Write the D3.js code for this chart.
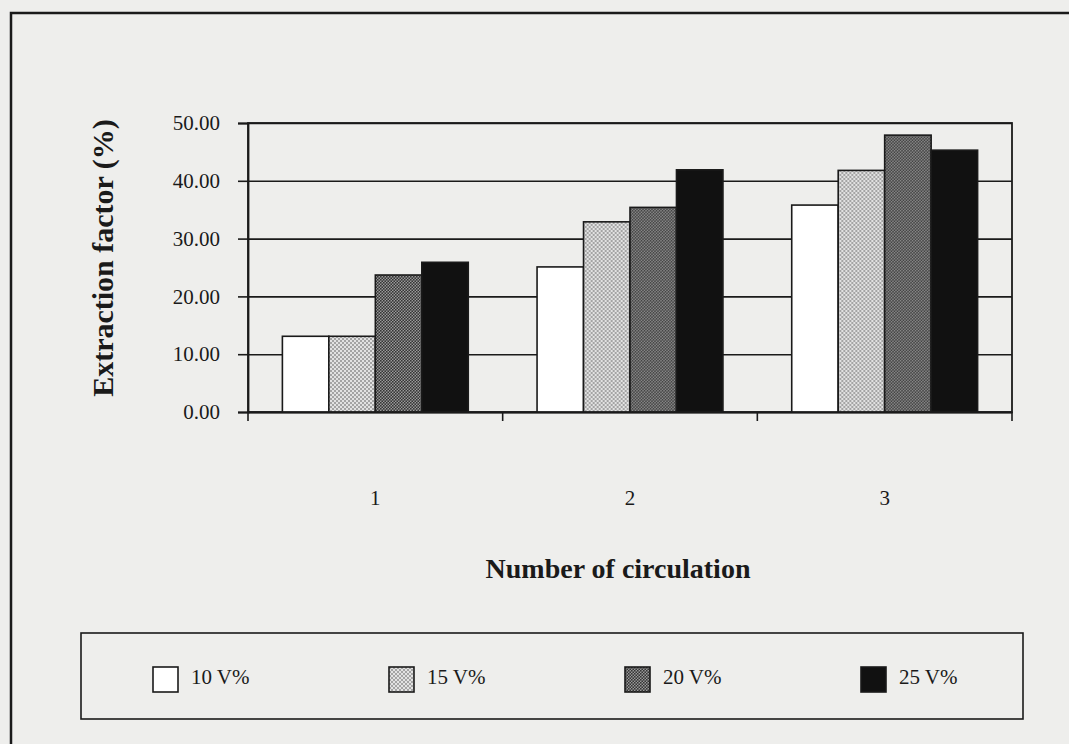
<!DOCTYPE html>
<html>
<head>
<meta charset="utf-8">
<script src="https://cdn.jsdelivr.net/npm/d3@7"></script>
<style>
  html, body { margin: 0; padding: 0; background: #eeeeec; }
  svg { display: block; }
  text { font-family: "Liberation Serif", "Times New Roman", serif; fill: #1a1a1a; }
</style>
</head>
<body>
<svg id="chart" width="1069" height="744"></svg>
<script>
// chart values
var categories = ["1", "2", "3"];
var seriesNames = ["10 V%", "15 V%", "20 V%", "25 V%"];
var v10 = [13.1, 25.1, 35.8];
var v15 = [13.1, 32.9, 41.8];
var v20 = [23.7, 35.4, 47.9];
var v25 = [25.9, 41.9, 45.3];
var yTicks = [0, 10, 20, 30, 40, 50];

var seriesValues = [v10, v15, v20, v25];
var fills = ["#ffffff", "url(#dots-light)", "url(#dots-dark)", "#111111"];

var svg = d3.select("#chart");

// paper background
svg.append("rect")
    .attr("width", 1069)
    .attr("height", 744)
    .attr("fill", "#eeeeec");

// halftone patterns for the two dotted series
var defs = svg.append("defs");

var light = defs.append("pattern")
    .attr("id", "dots-light")
    .attr("patternUnits", "userSpaceOnUse")
    .attr("width", 4)
    .attr("height", 4);
light.append("rect").attr("width", 4).attr("height", 4).attr("fill", "#e2e2e2");
light.append("circle").attr("cx", 1).attr("cy", 1).attr("r", 0.8).attr("fill", "#555");
light.append("circle").attr("cx", 3).attr("cy", 3).attr("r", 0.8).attr("fill", "#555");

var dark = defs.append("pattern")
    .attr("id", "dots-dark")
    .attr("patternUnits", "userSpaceOnUse")
    .attr("width", 3)
    .attr("height", 3);
dark.append("rect").attr("width", 3).attr("height", 3).attr("fill", "#9a9a9a");
dark.append("circle").attr("cx", 0.75).attr("cy", 0.75).attr("r", 0.9).attr("fill", "#333");
dark.append("circle").attr("cx", 2.25).attr("cy", 2.25).attr("r", 0.9).attr("fill", "#333");

// outer frame (runs off the right and bottom of the scan)
svg.append("rect")
    .attr("x", 11)
    .attr("y", 13)
    .attr("width", 1100)
    .attr("height", 800)
    .attr("fill", "none")
    .attr("stroke", "#1a1a1a")
    .attr("stroke-width", 2.5);

var plotLeft = 248, plotRight = 1012, plotTop = 123, plotBottom = 412;

var x0 = d3.scaleBand()
    .domain(categories)
    .range([plotLeft, plotRight])
    .padding(0);

var x1 = d3.scaleBand()
    .domain(seriesNames)
    .range([0, x0.bandwidth()])
    .paddingInner(0)
    .paddingOuter(0.74);

var y = d3.scaleLinear()
    .domain([0, 50])
    .range([plotBottom, plotTop]);

var plot = svg.append("g");

// gridlines
plot.append("g")
    .attr("transform", "translate(" + plotLeft + ",0)")
    .call(d3.axisLeft(y).tickValues(yTicks).tickSize(-(plotRight - plotLeft)).tickFormat(""))
    .call(function(g) { g.select(".domain").remove(); })
    .selectAll("line")
    .attr("stroke", "#1a1a1a")
    .attr("stroke-width", 1.6);

// plot box
plot.append("rect")
    .attr("x", plotLeft)
    .attr("y", plotTop)
    .attr("width", plotRight - plotLeft)
    .attr("height", plotBottom - plotTop)
    .attr("fill", "none")
    .attr("stroke", "#1a1a1a")
    .attr("stroke-width", 1.8);

// bars
var rows = categories.map(function(c, i) {
    return seriesNames.map(function(s, j) {
        return { cat: c, series: s, value: seriesValues[j][i], fill: fills[j] };
    });
});

plot.selectAll("g.group")
    .data(rows)
    .enter()
    .append("g")
    .attr("class", "group")
    .attr("transform", function(d, i) { return "translate(" + x0(categories[i]) + ",0)"; })
    .selectAll("rect")
    .data(function(d) { return d; })
    .enter()
    .append("rect")
    .attr("x", function(d) { return x1(d.series); })
    .attr("y", function(d) { return y(d.value); })
    .attr("width", x1.bandwidth())
    .attr("height", function(d) { return y(0) - y(d.value); })
    .attr("fill", function(d) { return d.fill; })
    .attr("stroke", "#1a1a1a")
    .attr("stroke-width", 1.6);

// y axis
var yAxis = plot.append("g")
    .attr("transform", "translate(" + plotLeft + ",0)")
    .call(d3.axisLeft(y).tickValues(yTicks).tickSize(10).tickPadding(18).tickFormat(d3.format(".2f")));
yAxis.select(".domain").attr("stroke", "#1a1a1a").attr("stroke-width", 1.8);
yAxis.selectAll("line").attr("stroke", "#1a1a1a").attr("stroke-width", 1.6);
yAxis.selectAll("text")
    .style("font-family", "'Liberation Serif', serif")
    .style("font-size", "21px")
    .attr("fill", "#1a1a1a");

// x axis: labels centred in bands, ticks on band boundaries
var xAxis = plot.append("g")
    .attr("transform", "translate(0," + plotBottom + ")")
    .call(d3.axisBottom(x0).tickSize(0).tickPadding(78));
xAxis.select(".domain").attr("stroke", "#1a1a1a").attr("stroke-width", 1.8);
xAxis.selectAll("text")
    .style("font-family", "'Liberation Serif', serif")
    .style("font-size", "21px")
    .attr("fill", "#1a1a1a");

xAxis.selectAll("line.sep")
    .data(categories.concat(["end"]))
    .enter()
    .append("line")
    .attr("class", "sep")
    .attr("x1", function(d, i) { return i < categories.length ? x0(d) : plotRight; })
    .attr("x2", function(d, i) { return i < categories.length ? x0(d) : plotRight; })
    .attr("y1", 0)
    .attr("y2", 9)
    .attr("stroke", "#1a1a1a")
    .attr("stroke-width", 1.6);

// axis titles
svg.append("text")
    .attr("transform", "translate(113,258) rotate(-90)")
    .attr("text-anchor", "middle")
    .style("font-weight", "bold")
    .style("font-size", "30px")
    .text("Extraction factor (%)");

svg.append("text")
    .attr("x", 618)
    .attr("y", 578)
    .attr("text-anchor", "middle")
    .style("font-weight", "bold")
    .style("font-size", "28px")
    .text("Number of circulation");

// legend
svg.append("rect")
    .attr("x", 81)
    .attr("y", 633)
    .attr("width", 942)
    .attr("height", 86)
    .attr("fill", "none")
    .attr("stroke", "#1a1a1a")
    .attr("stroke-width", 1.6);

var legendX = d3.scalePoint()
    .domain(seriesNames)
    .range([153, 861]);

var item = svg.selectAll("g.legend")
    .data(seriesNames)
    .enter()
    .append("g")
    .attr("class", "legend")
    .attr("transform", function(d) { return "translate(" + legendX(d) + ",667)"; });

item.append("rect")
    .attr("width", 25)
    .attr("height", 25)
    .attr("fill", function(d, i) { return fills[i]; })
    .attr("stroke", "#1a1a1a")
    .attr("stroke-width", 1.6);

item.append("text")
    .attr("x", 38)
    .attr("y", 17)
    .style("font-size", "21px")
    .text(function(d) { return d; });
</script>
</body>
</html>
